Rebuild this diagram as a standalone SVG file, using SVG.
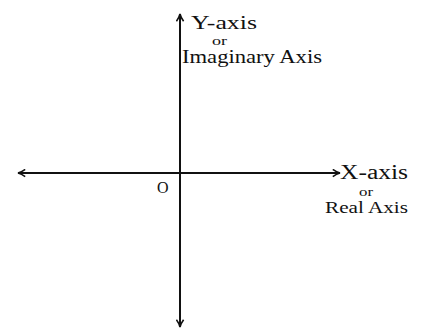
<svg xmlns="http://www.w3.org/2000/svg" width="424" height="331" viewBox="0 0 424 331">
<style>
.ax{stroke:#111;stroke-width:2;fill:none}
.t{font-family:"Liberation Serif",serif;fill:#111}
</style>
<defs>
<marker id="ah" viewBox="0 0 10 10" refX="9" refY="5" markerWidth="9" markerHeight="9" orient="auto-start-reverse" markerUnits="userSpaceOnUse">
<path d="M1,1 Q5,4 9,5 Q5,6 1,9" fill="none" stroke="#111" stroke-width="1.8"/>
</marker>
</defs>
<rect width="424" height="331" fill="#fff"/>
<g id="connectors">
<line class="ax" x1="18" y1="173" x2="340" y2="173" marker-start="url(#ah)" marker-end="url(#ah)"/>
<line class="ax" x1="180" y1="327" x2="180" y2="14" marker-start="url(#ah)" marker-end="url(#ah)"/>
</g>
<g id="y-label">
<text class="t" x="191" y="29" font-size="19" textLength="66" lengthAdjust="spacingAndGlyphs">Y-axis</text>
<text class="t" x="212" y="45" font-size="12" textLength="15" lengthAdjust="spacingAndGlyphs">or</text>
<text class="t" x="182" y="63" font-size="18" textLength="140" lengthAdjust="spacingAndGlyphs">Imaginary Axis</text>
</g>
<g id="x-label">
<text class="t" x="340" y="179" font-size="20" textLength="68" lengthAdjust="spacingAndGlyphs">X-axis</text>
<text class="t" x="359" y="196" font-size="12" textLength="14" lengthAdjust="spacingAndGlyphs">or</text>
<text class="t" x="325" y="213" font-size="17" textLength="83" lengthAdjust="spacingAndGlyphs">Real Axis</text>
</g>
<g id="origin">
<text class="t" x="157" y="193" font-size="16">O</text>
</g>
</svg>
